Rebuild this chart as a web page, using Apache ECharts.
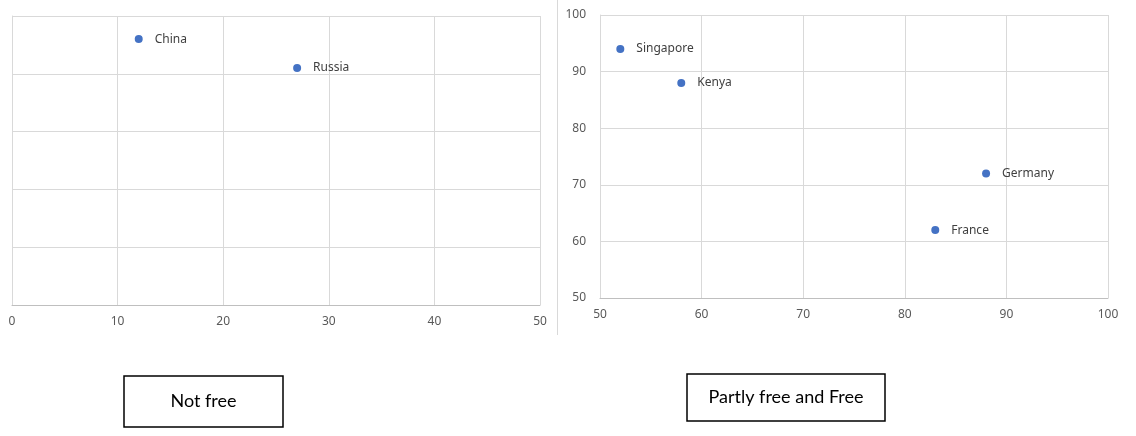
<!DOCTYPE html>
<html>
<head>
<meta charset="utf-8">
<script src="https://cdn.jsdelivr.net/npm/echarts@6/dist/echarts.min.js"></script>
<style>
  html, body { margin: 0; padding: 0; background: #fff; }
  #chart { width: 1136px; height: 436px; }
</style>
</head>
<body>
<div id="chart"></div>
<script>
// Not free
const notFreeNames = ['China', 'Russia'];
const notFreeX = [12, 27];
const notFreeY = [96, 91];
// Partly free and Free
const freeNames = ['Singapore', 'Kenya', 'Germany', 'France'];
const freeX = [52, 58, 88, 83];
const freeY = [94, 88, 72, 62];

const leftTicks = [0, 10, 20, 30, 40, 50];
const rightTicks = [50, 60, 70, 80, 90, 100];

function toPoints(names, xs, ys) {
  return names.map(function (n, i) {
    return { name: n, value: [xs[i], ys[i]] };
  });
}

const gridColor = '#d9d9d9';
const labelColor = '#595959';
const dotColor = '#4472c4';
const font = 'Noto Sans';

function xAxis(idx, ticks) {
  return {
    type: 'value', gridIndex: idx,
    min: ticks[0], max: ticks[ticks.length - 1], interval: 10,
    axisLine: { show: true, lineStyle: { color: '#bfbfbf' } },
    axisTick: { show: false },
    axisLabel: { color: labelColor, fontSize: 12, fontFamily: font, margin: 11 },
    splitLine: { show: true, lineStyle: { color: gridColor } }
  };
}
function yAxis(idx, showLabels) {
  return {
    type: 'value', gridIndex: idx,
    min: 50, max: 100, interval: 10,
    axisLine: { show: true, lineStyle: { color: gridColor } },
    axisTick: { show: false },
    axisLabel: { show: showLabels, color: labelColor, fontSize: 12, fontFamily: font, margin: 14 },
    splitLine: { show: true, lineStyle: { color: gridColor } }
  };
}
function scatter(idx, data) {
  return {
    type: 'scatter', xAxisIndex: idx, yAxisIndex: idx,
    symbolSize: 8,
    itemStyle: { color: dotColor, opacity: 1 },
    label: {
      show: true, position: 'right', distance: 12,
      formatter: '{b}', color: '#404040', fontSize: 12, fontFamily: font
    },
    data: data
  };
}

const chart = echarts.init(document.getElementById('chart'));
chart.setOption({
  animation: false,
  grid: [
    { left: 12, top: 16, width: 528, height: 289 },
    { left: 600, top: 15, width: 508, height: 283 }
  ],
  xAxis: [xAxis(0, leftTicks), xAxis(1, rightTicks)],
  yAxis: [yAxis(0, false), yAxis(1, true)],
  series: [
    scatter(0, toPoints(notFreeNames, notFreeX, notFreeY)),
    scatter(1, toPoints(freeNames, freeX, freeY))
  ],
  graphic: [
    {
      type: 'line', shape: { x1: 557.5, y1: 0, x2: 557.5, y2: 335 },
      style: { stroke: '#d9d9d9', lineWidth: 1 }
    },
    {
      type: 'rect', shape: { x: 124, y: 376, width: 159, height: 51 },
      style: { fill: '#fff', stroke: '#000', lineWidth: 1.5 }
    },
    {
      type: 'text', x: 203.5, y: 401.5,
      style: { text: 'Not free', fill: '#000', font: '18px Lato', align: 'center', verticalAlign: 'middle' }
    },
    {
      type: 'rect', shape: { x: 687, y: 374, width: 198, height: 47 },
      style: { fill: '#fff', stroke: '#000', lineWidth: 1.5 }
    },
    {
      type: 'text', x: 786, y: 397.5,
      style: { text: 'Partly free and Free', fill: '#000', font: '18px Lato', align: 'center', verticalAlign: 'middle' }
    }
  ]
});
</script>
</body>
</html>
